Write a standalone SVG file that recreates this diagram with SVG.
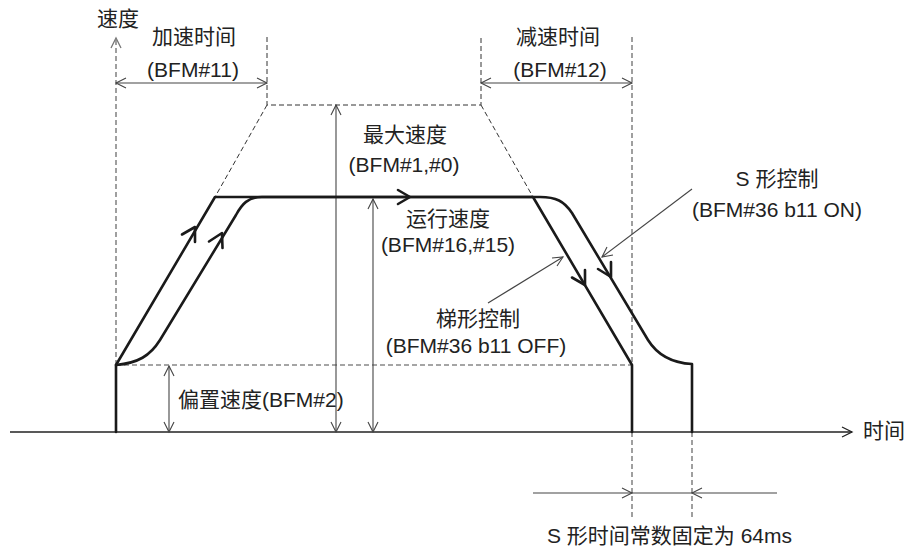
<svg xmlns="http://www.w3.org/2000/svg" width="912" height="546" viewBox="0 0 912 546">
<style>
  .t { font-family: "Liberation Sans", "Noto Sans CJK SC", sans-serif; font-size: 21px; fill: #222; }
  .m { text-anchor: middle; }
  .thick { fill: none; stroke: #1a1a1a; stroke-width: 2.6; stroke-linejoin: round; stroke-linecap: round; }
  .thin { fill: none; stroke: #444; stroke-width: 1.1; }
  .axis { fill: none; stroke: #222; stroke-width: 1.3; }
  .dg { fill: none; stroke: #888; stroke-width: 1.6; stroke-dasharray: 5 3; }
  .dk { fill: none; stroke: #333; stroke-width: 1; stroke-dasharray: 5 3; }
</style>
<rect width="912" height="546" fill="#fff"/>

<g id="guides">
  <path class="dg" d="M116,40 V365"/>
  <path class="dg" d="M632,37 V365"/>
  <path class="dg" d="M632,432 V517"/>
  <path class="dg" d="M692,432 V517"/>
  <path class="dg" d="M116,365 H632"/>
  <path class="dk" d="M267,37 V105 H481 V37"/>
  <path class="dk" d="M267,105 L215,197"/>
  <path class="dk" d="M481,105 L533,197"/>
</g>

<g id="connectors">
  <!-- time axis -->
  <path class="axis" d="M10,432 H852"/>
  <path class="axis" d="M842,427 L852,432 L842,437"/>
  <!-- speed axis arrowhead -->
  <path class="thin" d="M111,48 L116,38 L121,48" style="stroke:#777;stroke-width:1.3"/>
  <!-- accel time dimension -->
  <path class="thin" d="M116,83 H267"/>
  <path class="thin" d="M126,78 L116,83 L126,88 M257,78 L267,83 L257,88"/>
  <!-- decel time dimension -->
  <path class="thin" d="M481,83 H632"/>
  <path class="thin" d="M491,78 L481,83 L491,88 M622,78 L632,83 L622,88"/>
  <!-- max speed -->
  <path class="thin" d="M336,105 V432"/>
  <path class="thin" d="M331,115 L336,105 L341,115 M331,422 L336,432 L341,422"/>
  <!-- running speed -->
  <path class="thin" d="M373,199 V432"/>
  <path class="thin" d="M368,209 L373,199 L378,209 M368,422 L373,432 L378,422"/>
  <!-- bias speed -->
  <path class="thin" d="M169,366 V432"/>
  <path class="thin" d="M164,376 L169,366 L174,376 M164,422 L169,432 L174,422"/>
  <!-- leader: trapezoid control -->
  <path class="thin" d="M488,303 L563,257"/>
  <path class="thin" d="M552,258 L563,257 L557,266"/>
  <!-- leader: S control -->
  <path class="thin" d="M692,189 L602,257"/>
  <path class="thin" d="M607,247 L602,257 L613,255"/>
  <!-- S time constant dimension -->
  <path class="thin" d="M533,493 H777"/>
  <path class="thin" d="M622,488 L632,493 L622,498 M702,488 L692,493 L702,498"/>
</g>

<g id="trapezoid">
  <path class="thick" d="M116,432 V365 L215,197 H533 L632,365 V432"/>
  <path class="thick" d="M182,234.5 L195,227 L195,242"/>
  <path class="thick" d="M398,190 L410,197 L398,204"/>
  <path class="thick" d="M572,277.5 L585,285 L585,270"/>
</g>

<g id="s-curve">
  <path class="thick" d="M116,365 C138,363 150,356 160,340 L236,215 C242,204 248,197 262,197 H540 C556,197 564,201 572,213 L648,340 C658,356 672,363 692,364 V432"/>
  <path class="thick" d="M209,241.5 L222,233 L222.5,248"/>
  <path class="thick" d="M598,269 L611,277 L611,262"/>
</g>

<g id="labels">
  <text class="t" x="97" y="26">速度</text>
  <text class="t m" x="194" y="44">加速时间</text>
  <text class="t m" x="193" y="77">(BFM#11)</text>
  <text class="t m" x="558" y="44">减速时间</text>
  <text class="t m" x="560" y="77">(BFM#12)</text>
  <text class="t m" x="405" y="142">最大速度</text>
  <text class="t m" x="404" y="172">(BFM#1,#0)</text>
  <text class="t m" x="448" y="226">运行速度</text>
  <text class="t m" x="448" y="252">(BFM#16,#15)</text>
  <text class="t m" x="478" y="326">梯形控制</text>
  <text class="t m" x="476" y="353">(BFM#36 b11 OFF)</text>
  <text class="t m" x="777" y="186">S 形控制</text>
  <text class="t m" x="777" y="217">(BFM#36 b11 ON)</text>
  <text class="t" x="178" y="407">偏置速度(BFM#2)</text>
  <text class="t" x="863" y="438">时间</text>
  <text class="t" x="547" y="543">S 形时间常数固定为 64ms</text>
</g>
</svg>
